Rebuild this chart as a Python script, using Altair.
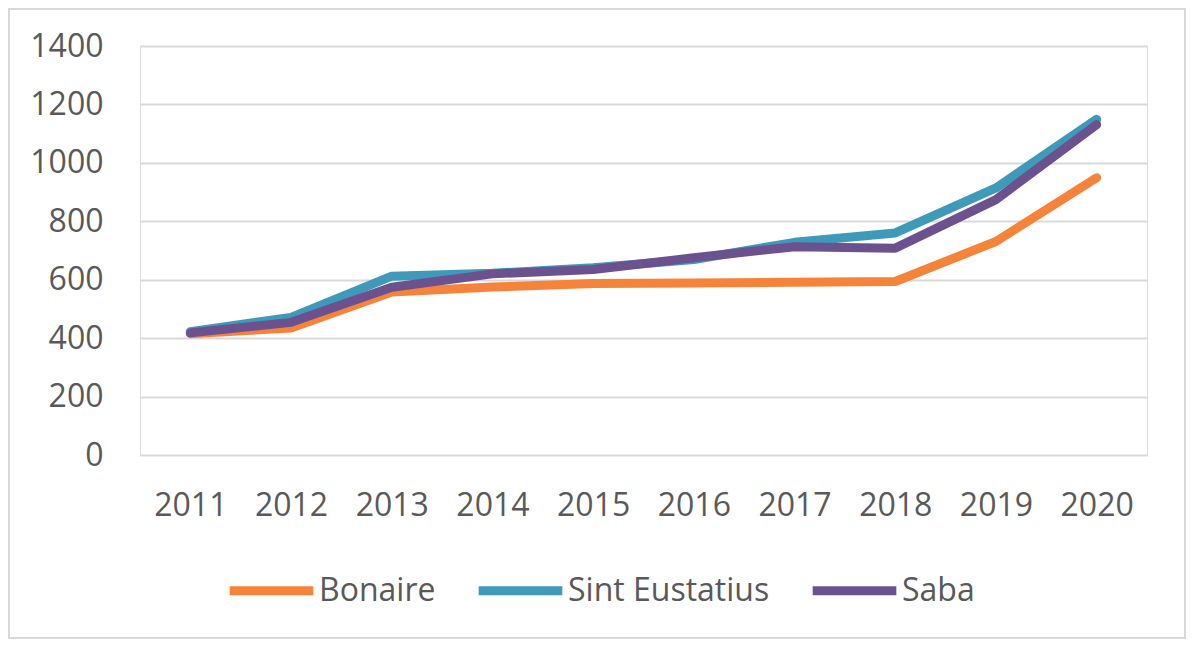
import altair as alt
import pandas as pd

years = ["2011", "2012", "2013", "2014", "2015", "2016", "2017", "2018", "2019", "2020"]
bonaire = [415, 435, 558, 575, 587, 589, 591, 594, 731, 949]
sint_eustatius = [422, 471, 612, 622, 641, 669, 728, 760, 914, 1149]
saba = [418, 454, 574, 620, 635, 675, 713, 708, 874, 1131]
series_names = ["Bonaire", "Sint Eustatius", "Saba"]
series_colors = ["#F5843A", "#3E9AB8", "#6B528F"]
y_ticks = [0, 200, 400, 600, 800, 1000, 1200, 1400]

rows = []
for name, vals in zip(series_names, [bonaire, sint_eustatius, saba]):
    for yr, v in zip(years, vals):
        rows.append({"year": yr, "value": v, "series": name})
df = pd.DataFrame(rows)

FONT = "Open Sans"
GREY = "#595959"

color = alt.Color(
    "series:N",
    scale=alt.Scale(domain=series_names, range=series_colors),
    legend=alt.Legend(
        title=None,
        orient="none",
        direction="horizontal",
        legendX=85,
        legendY=498,
        symbolType="stroke",
        symbolSize=7000,
        symbolStrokeWidth=9,
        labelFontSize=32,
        labelFont=FONT,
        labelColor=GREY,
        labelOffset=1,
        columnPadding=24,
        labelLimit=400,
    ),
)

x = alt.X(
    "year:O",
    title=None,
    scale=alt.Scale(domain=years, paddingOuter=0.5),
    axis=alt.Axis(
        labelAngle=0,
        labelFontSize=32,
        labelFont=FONT,
        labelColor=GREY,
        labelPadding=35,
        domain=False,
        ticks=False,
        grid=False,
    ),
)
y = alt.Y(
    "value:Q",
    title=None,
    scale=alt.Scale(domain=[0, 1400], nice=False),
    axis=alt.Axis(
        values=y_ticks,
        format="d",
        labelFontSize=32,
        labelFont=FONT,
        labelColor=GREY,
        labelPadding=37,
        domain=False,
        ticks=False,
        gridColor="#D9D9D9",
        gridWidth=2,
    ),
)

layers = []
for name in series_names:
    layers.append(
        alt.Chart(df)
        .transform_filter(alt.datum.series == name)
        .mark_line(strokeWidth=9, strokeCap="round", strokeJoin="round")
        .encode(x=x, y=y, color=color)
    )

border = alt.Chart(pd.DataFrame({"a": [0]})).mark_rect(
    fill="transparent", stroke="#D9D9D9", strokeWidth=2, clip=False
).encode(
    x=alt.value(-131), x2=alt.value(1045), y=alt.value(-37), y2=alt.value(592)
)

chart = alt.layer(*layers, border).properties(
    width=1007,
    height=409,
    autosize=alt.AutoSizeParams(type="none"),
    padding={"left": 132, "top": 38, "right": 40, "bottom": 186},
).configure_view(stroke=None).configure(background="white")

chart.save("out.html", embed_options={"renderer": "svg", "actions": False})
